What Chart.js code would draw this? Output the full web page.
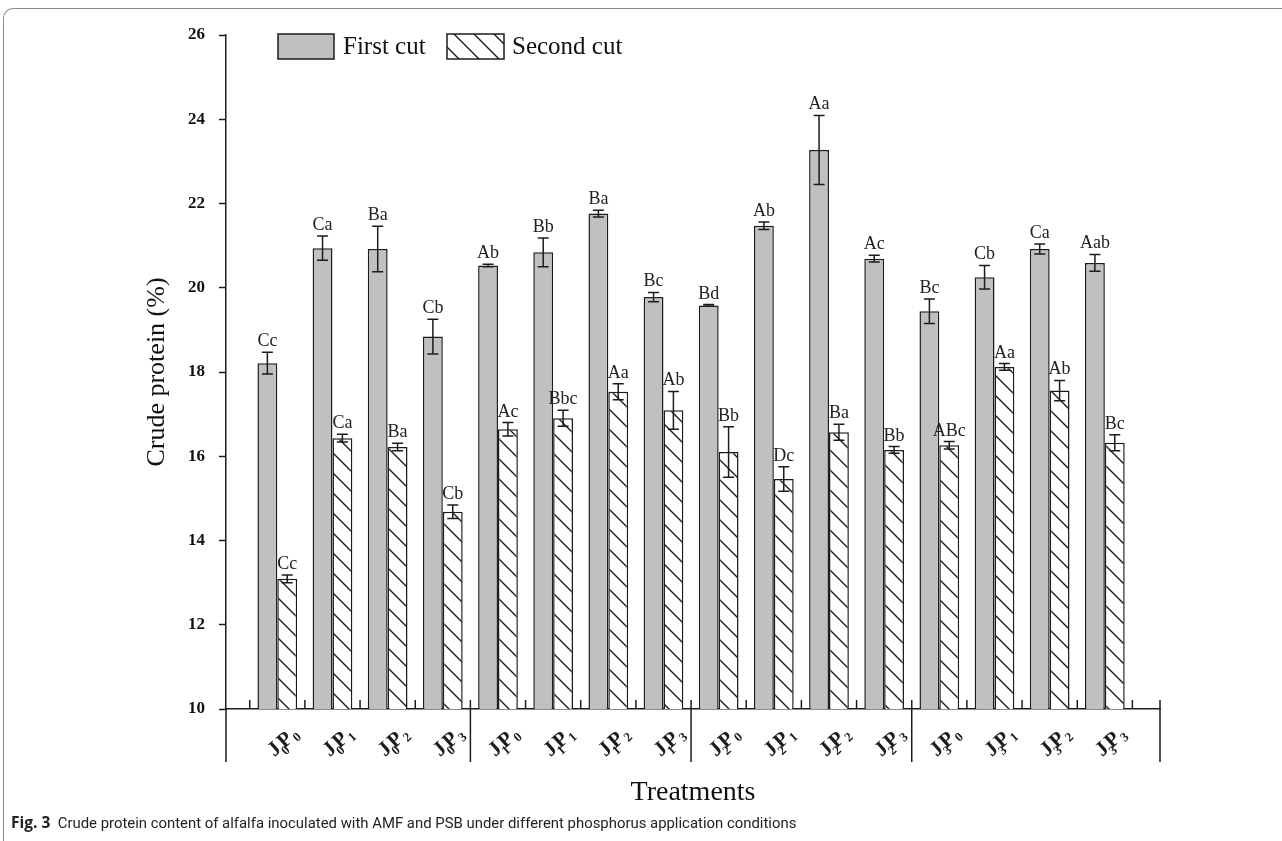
<!DOCTYPE html>
<html>
<head>
<meta charset="utf-8">
<script src="https://cdn.jsdelivr.net/npm/chart.js@4.4.1/dist/chart.umd.min.js"></script>
<style>
  body { margin: 0; background: #fff; overflow: hidden; }
  #frame { position: absolute; left: 3px; top: 8px; width: 1300px; height: 850px;
           border-top: 1.5px solid #8a8a8a; border-left: 1.5px solid #8a8a8a; border-top-left-radius: 10px; }
  #chart { position: absolute; left: 0; top: 0; }
  #caption { position: absolute; left: 11px; top: 811px; font-family: Roboto, "Noto Sans", sans-serif;
             font-size: 14.9px; color: #222; white-space: nowrap; }
  #caption b { font-family: "Open Sans", "Noto Sans", sans-serif; font-weight: 700; font-size: 15.5px; }
</style>
</head>
<body>
<div id="frame"></div>
<canvas id="chart" width="1282" height="812"></canvas>
<div id="caption"><b>Fig. 3</b>&nbsp;&nbsp;Crude protein content of alfalfa inoculated with AMF and PSB under different phosphorus application conditions</div>
<script>
// данные
const treatments = ['J0P0', 'J0P1', 'J0P2', 'J0P3', 'J1P0', 'J1P1', 'J1P2', 'J1P3',
                    'J2P0', 'J2P1', 'J2P2', 'J2P3', 'J3P0', 'J3P1', 'J3P2', 'J3P3'];
const firstCut = [18.21, 20.94, 20.92, 18.84, 20.53, 20.84, 21.76, 19.78,
                  19.58, 21.47, 23.27, 20.69, 19.44, 20.25, 20.92, 20.59];
const firstErr = [0.26, 0.29, 0.54, 0.41, 0.03, 0.34, 0.08, 0.11,
                  0.02, 0.09, 0.82, 0.08, 0.29, 0.28, 0.12, 0.20];
const firstLetters = ['Cc', 'Ca', 'Ba', 'Cb', 'Ab', 'Bb', 'Ba', 'Bc',
                      'Bd', 'Ab', 'Aa', 'Ac', 'Bc', 'Cb', 'Ca', 'Aab'];
const secondCut = [13.09, 16.43, 16.22, 14.68, 16.64, 16.90, 17.53, 17.09,
                   16.10, 15.46, 16.57, 16.15, 16.26, 18.12, 17.56, 16.32];
const secondErr = [0.09, 0.09, 0.09, 0.16, 0.16, 0.19, 0.19, 0.45,
                   0.60, 0.29, 0.19, 0.08, 0.09, 0.08, 0.24, 0.19];
const secondLetters = ['Cc', 'Ca', 'Ba', 'Cb', 'Ac', 'Bbc', 'Aa', 'Ab',
                       'Bb', 'Dc', 'Ba', 'Bb', 'ABc', 'Aa', 'Ab', 'Bc'];
const groupBreaks = [3.5, 7.5, 11.5];

const serif = '"Liberation Serif", "Times New Roman", serif';
const ink = '#1c1c1c';

// штриховка для второго укоса
let makeHatch = function () {
  let c = document.createElement('canvas');
  c.width = 20; c.height = 20;
  let g = c.getContext('2d');
  g.fillStyle = '#fff';
  g.fillRect(0, 0, 20, 20);
  g.strokeStyle = ink;
  g.lineWidth = 1.4;
  g.beginPath();
  g.moveTo(-2, -2); g.lineTo(22, 22);
  g.moveTo(18, -2); g.lineTo(22, 2);
  g.moveTo(-2, 18); g.lineTo(2, 22);
  g.stroke();
  return g.createPattern(c, 'repeat');
};

let ctx = document.getElementById('chart').getContext('2d');
let hatch = makeHatch();

// подпись варианта: J и P с индексами, повернуто
let drawTreat = function (c, label, cx, cy) {
  let big = 'bold 21px ' + serif, small = 'bold 13px ' + serif;
  let parts = [[label[0], big, 0, -1], [label[1], small, 6, -3], [label[2], big, 0, 1], [label[3], small, 4, 0]];
  let w = 0;
  parts.forEach(function (p) { c.font = p[1]; w += c.measureText(p[0]).width + p[3]; });
  c.save();
  c.translate(cx, cy);
  c.rotate(-42 * Math.PI / 180);
  c.fillStyle = ink;
  c.textBaseline = 'alphabetic';
  c.textAlign = 'left';
  let x = -w / 2;
  parts.forEach(function (p) {
    c.font = p[1];
    c.fillText(p[0], x, 7 + p[2]);
    x += c.measureText(p[0]).width + p[3];
  });
  c.restore();
};

let decor = {
  id: 'decor',
  afterDatasetsDraw: function (chart) {
    let c = chart.ctx, ys = chart.scales.y;
    c.save();
    // планки погрешностей и буквы
    chart.data.datasets.forEach(function (ds, di) {
      let meta = chart.getDatasetMeta(di);
      meta.data.forEach(function (el, i) {
        let v = ds.data[i].y, e = ds.errors[i];
        let top = ys.getPixelForValue(v + e), bot = ys.getPixelForValue(v - e);
        c.strokeStyle = ink;
        c.lineWidth = 1.5;
        c.beginPath();
        c.moveTo(el.x, top); c.lineTo(el.x, bot);
        c.moveTo(el.x - 5.5, top); c.lineTo(el.x + 5.5, top);
        c.moveTo(el.x - 5.5, bot); c.lineTo(el.x + 5.5, bot);
        c.stroke();
        c.fillStyle = '#222';
        c.font = '18px ' + serif;
        c.textAlign = 'center';
        c.textBaseline = 'alphabetic';
        c.fillText(ds.letters[i], el.x, Math.min(top, el.y) - 6);
      });
    });
    c.restore();
  },
  afterDraw: function (chart) {
    let c = chart.ctx, xs = chart.scales.x, area = chart.chartArea;
    let base = area.bottom, low = 762;
    c.save();
    c.strokeStyle = ink;
    c.lineWidth = 1.5;
    c.beginPath();
    // короткие засечки вверх между вариантами
    for (let k = -1; k < treatments.length; k++) {
      let px = xs.getPixelForValue(k + 0.5);
      c.moveTo(px, base); c.lineTo(px, base - 9);
    }
    // рамка под осью
    c.moveTo(area.left, base); c.lineTo(area.left, low);
    c.moveTo(area.right, base - 9); c.lineTo(area.right, low);
    groupBreaks.forEach(function (g) {
      let px = xs.getPixelForValue(g);
      c.moveTo(px, base); c.lineTo(px, low);
    });
    c.stroke();
    // подписи вариантов
    treatments.forEach(function (t, i) {
      drawTreat(c, t, xs.getPixelForValue(i) + 5, 741);
    });
    // легенда
    c.lineWidth = 1.5;
    c.fillStyle = '#c0c0c0';
    c.fillRect(278, 34, 56, 25);
    c.strokeRect(278, 34, 56, 25);
    c.fillStyle = hatch;
    c.fillRect(447, 34, 57, 25);
    c.strokeRect(447, 34, 57, 25);
    c.fillStyle = '#111';
    c.font = '25px ' + serif;
    c.textAlign = 'left';
    c.textBaseline = 'middle';
    c.fillText('First cut', 343, 47);
    c.fillText('Second cut', 512, 47);
    c.restore();
  }
};

let chart = new Chart(ctx, {
  type: 'bar',
  data: {
    datasets: [{
      label: 'First cut',
      data: firstCut.map(function (v, i) { return { x: i, y: v }; }),
      errors: firstErr,
      letters: firstLetters,
      backgroundColor: '#c0c0c0',
      borderColor: ink,
      borderWidth: 1.5
    }, {
      label: 'Second cut',
      data: secondCut.map(function (v, i) { return { x: i, y: v }; }),
      errors: secondErr,
      letters: secondLetters,
      backgroundColor: hatch,
      borderColor: ink,
      borderWidth: 1.5
    }]
  },
  options: {
    responsive: false,
    animation: false,
    layout: { padding: { left: 140, top: 35, right: 122, bottom: 0 } },
    datasets: { bar: { categoryPercentage: 0.72, barPercentage: 1.0 } },
    scales: {
      x: {
        type: 'linear', min: -0.93, max: 16, offset: false,
        ticks: { display: false },
        grid: { display: false },
        border: { display: true, color: ink, width: 1.5 },
        title: { display: true, text: 'Treatments', color: '#111',
                 font: { family: serif, size: 28 }, padding: { top: 0, bottom: 3 } },
        afterFit: function (s) { s.height = 103; }
      },
      y: {
        min: 10, max: 26,
        ticks: { stepSize: 2, color: '#111', padding: 14,
                 font: { family: serif, size: 17, weight: 'bold' } },
        grid: { drawOnChartArea: false, tickLength: 7, color: ink, tickWidth: 1.5 },
        border: { color: ink, width: 1.5 },
        title: { display: true, text: 'Crude protein (%)', color: '#111',
                 font: { family: serif, size: 26 }, padding: { top: 2, bottom: 0 } },
        afterFit: function (s) { s.width = 86; }
      }
    },
    plugins: { legend: { display: false }, tooltip: { enabled: false } }
  },
  plugins: [decor]
});
</script>
</body>
</html>
